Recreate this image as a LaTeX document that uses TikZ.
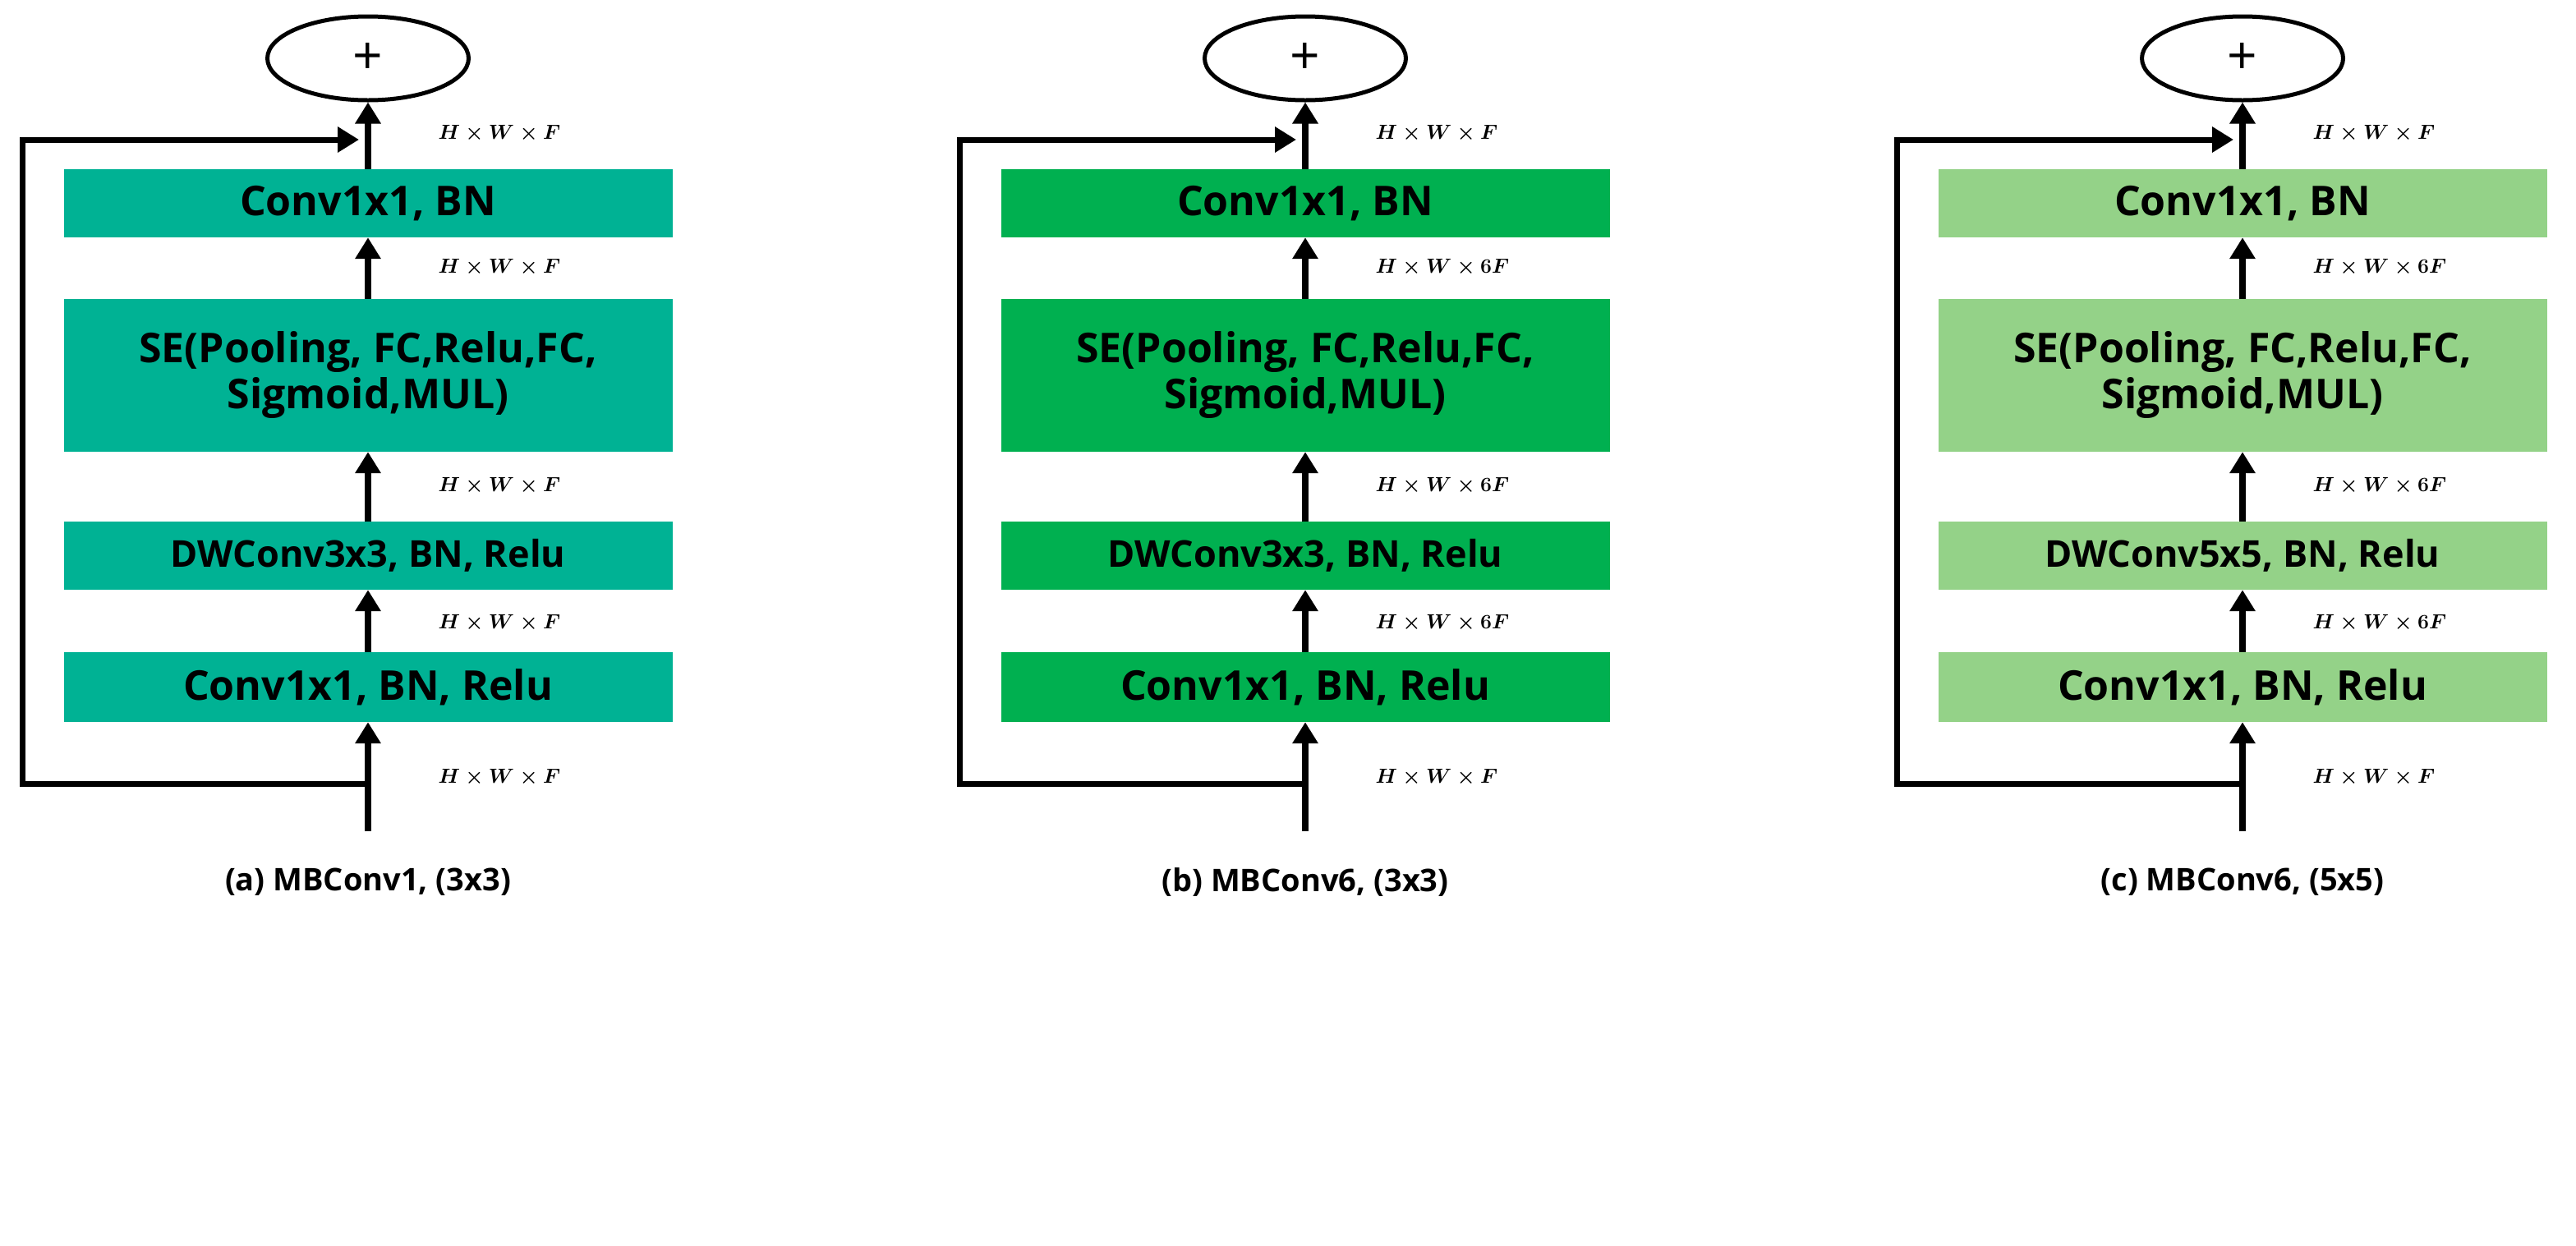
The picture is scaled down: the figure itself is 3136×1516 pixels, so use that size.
\documentclass[tikz,border=0pt]{standalone}
\usepackage{fontspec}
\setmainfont{Open Sans}
\usetikzlibrary{arrows.meta,shapes.geometric}
\definecolor{ca}{RGB}{0,178,148}
\definecolor{cb}{RGB}{0,176,80}
\definecolor{cc}{RGB}{148,210,136}
\tikzset{
  blk/.style={draw=none,minimum width=741pt,inner sep=0pt,align=center,font=\fontsize{50}{56}\selectfont\bfseries},
  arr/.style={line width=8pt,-{Triangle[length=26pt,width=30pt]}},
  skip/.style={line width=7pt,-{Triangle[length=26pt,width=30pt]}},
  dim/.style={font=\fontsize{40}{44}\selectfont\boldmath,anchor=west},
  captxt/.style={font=\fontsize{38}{44}\selectfont\bfseries},
}
\newcommand{\mbpanel}[8]{%
\begin{scope}[xshift=#1]
 \node[draw,line width=5pt,ellipse,minimum width=245pt,minimum height=102pt,inner sep=0pt,font=\fontsize{64}{64}\selectfont] (plus#2) at (448,71) {+};
 \node[blk,fill=#3,minimum height=83pt] (top#2) at (448,247.5) {Conv1x1,\ BN};
 \node[blk,fill=#3,minimum height=186pt] (se#2) at (448,457) {SE(Pooling,\ FC,Relu,FC,\\Sigmoid,MUL)};
 \node[blk,fill=#3,minimum height=83pt,font=\fontsize{45}{50}\selectfont\bfseries] (dw#2) at (448,676.5) {DWConv#4,\ BN,\ Relu};
 \node[blk,fill=#3,minimum height=85pt] (bot#2) at (448,836.5) {Conv1x1,\ BN,\ Relu};
 \coordinate (in#2) at (448,1012);
 \coordinate (br#2) at (448,954);
 \coordinate (bl#2) at (27,954);
 \coordinate (tl#2) at (27,170);
 \coordinate (tr#2) at (437,170);
 \draw[arr] (in#2) -- (bot#2.south);
 \draw[arr] (bot#2.north) -- (dw#2.south);
 \draw[arr] (dw#2.north) -- (se#2.south);
 \draw[arr] (se#2.north) -- (top#2.south);
 \draw[arr] (top#2.north) -- (plus#2.south);
 \draw[skip] (br#2) -- (bl#2) -- (tl#2) -- (tr#2);
 \node[dim] (d1#2) at (530,163) {$H\times W\times F$};
 \node[dim] (d2#2) at (530,326) {$H\times W\times #5$};
 \node[dim] (d3#2) at (530,592) {$H\times W\times #5$};
 \node[dim] (d4#2) at (530,759) {$H\times W\times #5$};
 \node[dim] (d5#2) at (530,947) {$H\times W\times F$};
 \node[captxt] (cap#2) at (448,1074) {#6};
\end{scope}}
\begin{document}
\begin{tikzpicture}[x=1pt,y=-1pt]
\useasboundingbox (0,0) rectangle (3136,1516);
\mbpanel{0pt}{a}{ca}{3x3}{F}{(a)\ MBConv1,\ (3x3)}{}{}
\mbpanel{1141pt}{b}{cb}{3x3}{6F}{(b)\ MBConv6,\ (3x3)}{}{}
\mbpanel{2282pt}{c}{cc}{5x5}{6F}{(c)\ MBConv6,\ (5x5)}{}{}
\end{tikzpicture}
\end{document}
